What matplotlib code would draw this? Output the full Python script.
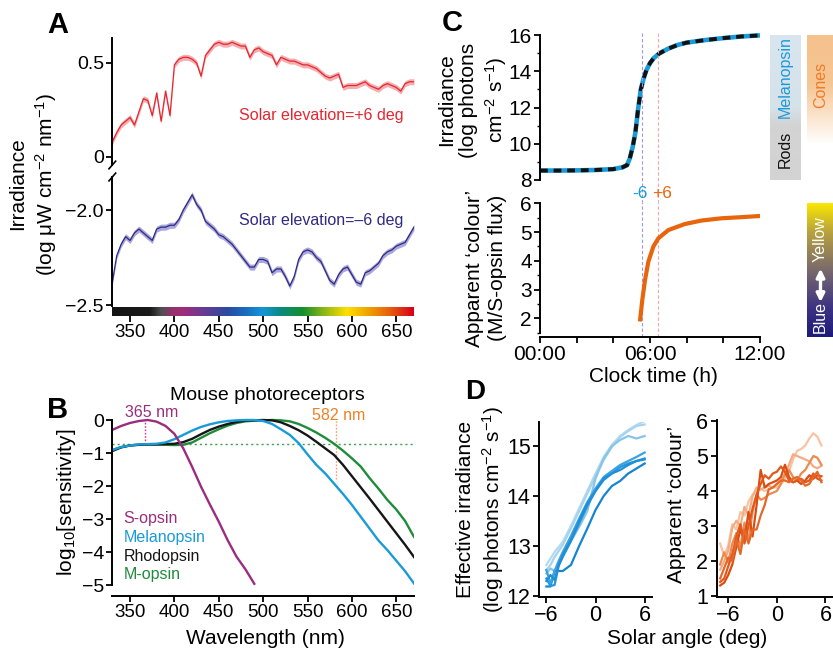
import numpy as np
import matplotlib
matplotlib.use('Agg')
import matplotlib.pyplot as plt
from matplotlib.colors import LinearSegmentedColormap
from matplotlib.ticker import FixedLocator

plt.rcParams['font.family'] = ['Liberation Sans', 'DejaVu Sans']
plt.rcParams['mathtext.fontset'] = 'custom'
plt.rcParams['mathtext.rm'] = 'Liberation Sans'
plt.rcParams['mathtext.it'] = 'Liberation Sans:italic'
plt.rcParams['axes.linewidth'] = 1.4
for a in ['xtick', 'ytick']:
    plt.rcParams[a + '.major.width'] = 1.3
    plt.rcParams[a + '.major.size'] = 4
    plt.rcParams[a + '.minor.width'] = 1.0
    plt.rcParams[a + '.minor.size'] = 2.5
    plt.rcParams[a + '.major.pad'] = 2

# ---------------- DATA ----------------
# Panel A: spectra (log uW cm-2 nm-1)
wl_a = list(range(330, 671, 5))
irr_plus6 = [0.08, 0.13, 0.17, 0.19, 0.21, 0.17, 0.24, 0.31, 0.30, 0.22,
             0.34, 0.19, 0.35, 0.22, 0.49, 0.52, 0.53, 0.53, 0.52, 0.50,
             0.43, 0.54, 0.57, 0.60, 0.61, 0.60, 0.60, 0.61, 0.60, 0.59,
             0.59, 0.53, 0.57, 0.58, 0.56, 0.55, 0.54, 0.49, 0.53, 0.52,
             0.51, 0.51, 0.50, 0.49, 0.49, 0.48, 0.47, 0.45, 0.43, 0.42,
             0.43, 0.44, 0.37, 0.38, 0.38, 0.38, 0.39, 0.40, 0.38, 0.37,
             0.36, 0.38, 0.39, 0.38, 0.37, 0.35, 0.39, 0.40, 0.40]
irr_minus6 = [-2.38, -2.24, -2.18, -2.14, -2.16, -2.12, -2.10, -2.12, -2.14, -2.16,
              -2.10, -2.09, -2.09, -2.08, -2.08, -2.05, -2.00, -1.96, -1.92, -1.97,
              -2.00, -2.06, -2.08, -2.10, -2.13, -2.14, -2.16, -2.18, -2.21, -2.24,
              -2.27, -2.30, -2.30, -2.26, -2.26, -2.27, -2.33, -2.31, -2.31, -2.35,
              -2.40, -2.35, -2.26, -2.22, -2.21, -2.22, -2.25, -2.27, -2.32, -2.37,
              -2.39, -2.34, -2.31, -2.30, -2.34, -2.38, -2.39, -2.33, -2.32, -2.30,
              -2.28, -2.24, -2.22, -2.21, -2.19, -2.18, -2.17, -2.13, -2.09]
sem_a = 0.016
spectrum_wl = [330, 372, 385, 398, 410, 430, 460, 480, 500, 520, 545, 575, 595, 620, 645, 670]
spectrum_col = ['#141414', '#1a1a1a', '#505050', '#98306e', '#a02c78', '#6c3a92', '#2c4aa2',
                '#1a6cc0', '#1496d8', '#0a8a80', '#14902e', '#a8c010', '#ffe000', '#f0a000',
                '#e65a10', '#d8001a']

# Panel B: log10 sensitivity
wl_b = list(range(330, 671, 10))
s_opsin = [-0.30, -0.18, -0.09, -0.03, 0.00, -0.05, -0.18, -0.42, -0.86, -1.42,
           -2.02, -2.56, -3.08, -3.64, -4.14, -4.52, -4.96]
melanopsin = [-0.91, -0.82, -0.77, -0.74, -0.73, -0.72, -0.68, -0.58, -0.45, -0.32,
              -0.21, -0.13, -0.07, -0.03, -0.01, 0.00, 0.00, -0.03, -0.12, -0.28,
              -0.45, -0.70, -1.04, -1.36, -1.62, -1.93, -2.24, -2.57, -2.93, -3.29,
              -3.65, -3.94, -4.26, -4.58, -4.95]
rhodopsin = [-0.94, -0.83, -0.77, -0.75, -0.74, -0.74, -0.73, -0.72, -0.67, -0.57,
             -0.43, -0.30, -0.20, -0.12, -0.06, -0.02, -0.01, 0.00, -0.01, -0.07,
             -0.18, -0.31, -0.47, -0.66, -0.86, -1.06, -1.36, -1.70, -2.04, -2.38,
             -2.73, -3.08, -3.43, -3.78, -4.15]
m_opsin = [-0.91, -0.82, -0.77, -0.75, -0.74, -0.74, -0.75, -0.76, -0.75, -0.68,
           -0.54, -0.40, -0.28, -0.17, -0.09, -0.04, -0.02, -0.01, 0.00, -0.01,
           -0.04, -0.12, -0.24, -0.38, -0.54, -0.72, -0.93, -1.16, -1.41, -1.76,
           -2.08, -2.42, -2.71, -3.06, -3.54]
legend_b = ['S-opsin', 'Melanopsin', 'Rhodopsin', 'M-opsin']

# Panel C
time_c = [0, 1, 2, 3, 4, 4.5, 4.75, 4.9, 5.05, 5.2, 5.35, 5.5, 5.65, 5.8, 6.0, 6.2,
          6.5, 7.0, 7.5, 8, 9, 10, 11, 12]
irr_c = [8.52, 8.52, 8.53, 8.55, 8.6, 8.7, 8.82, 9.2, 9.8, 10.6, 11.9, 13.0, 13.6,
         14.05, 14.45, 14.72, 14.98, 15.25, 15.45, 15.58, 15.72, 15.83, 15.92, 15.98]
time_col = [5.45, 5.58, 5.73, 5.91, 6.18, 6.45, 7.0, 7.9, 8.8, 9.9, 11.0, 12.0]
colour_c = [1.89, 2.64, 3.34, 3.97, 4.49, 4.78, 5.07, 5.28, 5.40, 5.48, 5.52, 5.56]
t_minus6 = 5.58
t_plus6 = 6.45

# Panel D
angle_d1 = [-6, -5.5, -5, -4.5, -4, -3, -2, -1, 0, 1, 2, 3, 4, 5, 6]
eff_irr = [
    [12.62, 12.75, 12.88, 12.98, 13.08, 13.40, 13.75, 14.10, 14.45, 14.78, 15.02, 15.20, 15.32, 15.42, 15.50],
    [12.52, 12.62, 12.78, 12.90, 13.02, 13.35, 13.70, 14.05, 14.40, 14.72, 14.98, 15.18, 15.30, 15.40, 15.43],
    [12.45, 12.55, 12.50, 12.62, 12.80, 13.10, 13.38, 13.70, 14.35, 14.75, 15.00, 15.12, 15.20, 15.15, 15.20],
    [12.19, 12.19, 12.50, 12.50, 12.50, 12.62, 13.00, 13.35, 13.72, 14.00, 14.20, 14.30, 14.45, 14.55, 14.65],
    [12.35, 12.20, 12.22, 12.60, 12.78, 13.10, 13.45, 13.80, 14.10, 14.32, 14.45, 14.58, 14.65, 14.70, 14.73],
    [12.52, 12.25, 12.50, 12.70, 12.88, 13.20, 13.55, 13.88, 14.15, 14.38, 14.50, 14.62, 14.70, 14.78, 14.87],
    [12.30, 12.42, 12.32, 12.62, 12.82, 13.12, 13.50, 13.85, 14.10, 14.35, 14.45, 14.52, 14.62, 14.70, 14.75],
]
eff_cols = ['#b3daf1', '#a6d3ee', '#86c4ea', '#1585d2', '#2496db', '#3aa3e0', '#1e8fd8']

angle_d2 = [-7, -6.5, -6, -5.5, -5, -4.5, -4, -3.5, -3, -2.5, -2, -1.5, -1, -0.5,
            0, 0.5, 1, 1.5, 2, 2.5, 3, 3.5, 4, 4.5, 5, 5.5]
app_col = [
    [2.5, 2.15, 2.45, 3.05, 2.9, 3.4, 3.3, 3.7, 3.9, 4.0, 4.05, 4.0, 4.05, 4.1, 4.1, 4.2, 4.35, 4.55, 4.9, 5.15, 5.2, 5.3, 5.5, 5.65, 5.55, 5.3],
    [1.75, 2.0, 2.3, 2.95, 3.15, 3.0, 3.55, 3.3, 3.85, 4.1, 4.05, 4.1, 4.15, 4.1, 4.2, 4.3, 4.45, 4.75, 5.05, 5.0, 4.95, 4.9, 4.85, 4.7, 4.65, 4.72],
    [1.9, 2.25, 1.95, 2.5, 2.8, 2.4, 3.1, 2.6, 3.4, 3.9, 3.75, 3.8, 3.9, 3.95, 4.0, 4.2, 4.5, 4.6, 4.4, 4.3, 4.5, 4.6, 4.8, 5.0, 4.95, 4.75],
    [1.3, 1.38, 1.6, 1.9, 2.4, 2.9, 2.6, 3.4, 2.7, 3.6, 4.6, 4.1, 4.2, 4.25, 4.3, 4.4, 4.75, 4.4, 4.25, 4.3, 4.2, 4.3, 4.45, 4.35, 4.45, 4.42],
    [1.4, 1.5, 1.85, 2.2, 2.7, 3.05, 2.5, 3.0, 3.5, 3.9, 4.2, 4.45, 4.35, 4.5, 4.55, 4.7, 4.55, 4.3, 4.25, 4.3, 4.35, 4.25, 4.3, 4.5, 4.35, 4.3],
    [1.5, 1.8, 2.1, 2.0, 2.6, 2.2, 2.9, 2.5, 2.9, 2.9, 3.3, 3.6, 4.05, 4.1, 4.2, 4.3, 4.3, 4.25, 4.35, 4.4, 4.3, 4.15, 4.2, 4.4, 4.55, 4.25],
]
app_cols = ['#f7c4a2', '#f3ac84', '#ec8a50', '#dc4c10', '#e2581a', '#e4682a']

# ---------------- FIGURE ----------------
W, H = 833, 654
fig = plt.figure(figsize=(W / 100, H / 100), dpi=100)


def add_ax(x0, y0, x1, y1):
    return fig.add_axes([x0 / W, 1 - y1 / H, (x1 - x0) / W, (y1 - y0) / H])


def ftext(x, y, s, **kw):
    fig.text(x / W, 1 - y / H, s, **kw)


def clean(ax, keep=('left', 'bottom')):
    for s in ['top', 'right', 'left', 'bottom']:
        ax.spines[s].set_visible(s in keep)


TICK = 14
LAB = 15

# ---- Panel A ----
c_red, c_redband = '#e5262f', '#f4aeb1'
c_nav, c_navband = '#2f2a80', '#a9a7dc'
axA1 = add_ax(112.3, 38, 414, 165)
p6 = np.array(irr_plus6)
axA1.fill_between(wl_a, p6 - sem_a, p6 + sem_a, color=c_redband, lw=0)
axA1.plot(wl_a, p6, color=c_red, lw=0.9)
axA1.set_xlim(330, 670)
axA1.set_ylim(-0.043, 0.633)
clean(axA1, ('left',))
axA1.set_xticks([])
axA1.set_yticks([0, 0.5])
axA1.set_yticklabels(['0', '0.5'])
axA1.tick_params(labelsize=TICK)
axA1.plot([-0.011, 0.011], [-0.03, 0.03], transform=axA1.transAxes, color='k', lw=1.2, clip_on=False)
axA1.text(0.965, 0.39, 'Solar elevation=+6 deg', transform=axA1.transAxes, color=c_red,
          fontsize=11.5, ha='right', va='center')

axA2 = add_ax(112.3, 177, 414, 306)
m6 = np.array(irr_minus6)
axA2.fill_between(wl_a, m6 - sem_a, m6 + sem_a, color=c_navband, lw=0)
axA2.plot(wl_a, m6, color=c_nav, lw=0.9)
axA2.set_xlim(330, 670)
axA2.set_ylim(-2.505, -1.826)
clean(axA2, ('left',))
axA2.set_xticks([])
axA2.set_yticks([-2.5, -2.0])
axA2.set_yticklabels(['\u22122.5', '\u22122.0'])
axA2.tick_params(labelsize=TICK)
axA2.plot([-0.011, 0.011], [0.97, 1.03], transform=axA2.transAxes, color='k', lw=1.2, clip_on=False)
axA2.text(0.965, 0.66, 'Solar elevation=\u20136 deg', transform=axA2.transAxes, color=c_nav,
          fontsize=11.5, ha='right', va='center')

axCB = add_ax(112.3, 307, 414, 316)
pos = [(w - spectrum_wl[0]) / (spectrum_wl[-1] - spectrum_wl[0]) for w in spectrum_wl]
cmap_sp = LinearSegmentedColormap.from_list('spec', list(zip(pos, spectrum_col)))
axCB.imshow(np.linspace(0, 1, 400)[None, :], aspect='auto', cmap=cmap_sp,
            extent=[330, 670, 0, 1])
axCB.set_xlim(330, 670)
clean(axCB, ())
axCB.set_yticks([])
axCB.set_xticks(range(350, 651, 50))
axCB.tick_params(axis='x', labelsize=13.5, length=4, width=1.3)

ftext(34, 184, 'Irradiance\n(log \u03bcW cm$^{\u22122}$ nm$^{\u22121}$)', rotation=90,
      ha='center', va='center', fontsize=LAB, linespacing=1.3)
ftext(58, 25, 'A', fontsize=21, fontweight='bold', ha='center', va='center')

# ---- Panel B ----
c_s, c_mel, c_rho, c_m = '#9b2d7f', '#1a9ad9', '#161616', '#1f8c3b'
axB = add_ax(112.3, 416.7, 414, 596)
axB.axhline(-0.74, color='#3aa050', lw=1.0, ls=(0, (1.5, 2.2)))
axB.vlines(367, -0.74, 0, color='#d6338f', lw=1.0, ls=(0, (1.2, 1.2)))
axB.vlines(582, -1.78, -0.03, color='#f2a070', lw=1.0, ls=(0, (1.2, 1.2)))
axB.plot(wl_b, m_opsin, color=c_m, lw=1.7)
axB.plot(wl_b, rhodopsin, color=c_rho, lw=1.7)
axB.plot(wl_b, melanopsin, color=c_mel, lw=1.7)
axB.plot(wl_b[:len(s_opsin)], s_opsin, color=c_s, lw=1.7)
axB.set_xlim(330, 670)
axB.set_ylim(-5.33, 0.1)
clean(axB)
axB.spines['left'].set_bounds(-5, 0)
axB.set_xticks(range(350, 651, 50))
axB.set_yticks([0, -1, -2, -3, -4, -5])
axB.set_yticklabels(['0', '\u22121', '\u22122', '\u22123', '\u22124', '\u22125'])
axB.tick_params(axis='x', labelsize=13.5)
axB.tick_params(axis='y', labelsize=TICK)
axB.text(374, 0.24, '365 nm', color=c_s, fontsize=11.5, ha='center', va='center')
axB.text(585.5, 0.15, '582 nm', color='#f07f24', fontsize=11.5, ha='center', va='center')
for lab, col, yy in zip(legend_b, [c_s, c_mel, c_rho, c_m], [-2.97, -3.55, -4.12, -4.67]):
    axB.text(342.5, yy, lab, color=col, fontsize=11.5, ha='left', va='center')
ftext(267, 395, 'Mouse photoreceptors', fontsize=14, ha='center', va='center')
ftext(66, 502, 'log$_{10}$[sensitivity]', rotation=90, fontsize=LAB, ha='center', va='center')
ftext(265, 638, 'Wavelength (nm)', fontsize=LAB, ha='center', va='center')
ftext(58, 410, 'B', fontsize=21, fontweight='bold', ha='center', va='center')

# ---- Panel C ----
c_orange = '#e8650c'
axC1 = add_ax(540, 33.2, 760, 181.8)
axC1.plot(time_c, irr_c, color=c_mel, lw=3.3, solid_capstyle='butt')
axC1.plot(time_c, irr_c, color='#111111', lw=2.8, ls=(0, (2.0, 1.5)))
axC1.axvline(t_minus6, ymin=-0.14, ymax=1, clip_on=False, color='#9a9ae6', lw=0.8, ls=(0, (3, 2)))
axC1.axvline(t_plus6, ymin=-0.14, ymax=1, clip_on=False, color='#f2a6a6', lw=0.8, ls=(0, (3, 2)))
axC1.set_xlim(0, 12)
axC1.set_ylim(7.9, 16.1)
clean(axC1, ('left',))
axC1.spines['left'].set_bounds(8, 16)
axC1.set_xticks([])
axC1.set_yticks([8, 10, 12, 14, 16])
axC1.yaxis.set_minor_locator(FixedLocator([9, 11, 13, 15]))
axC1.tick_params(labelsize=15)

axC2 = add_ax(540, 201.9, 760, 336.7)
axC2.axvline(t_minus6, color='#9a9ae6', lw=0.8, ls=(0, (3, 2)))
axC2.axvline(t_plus6, color='#f2a6a6', lw=0.8, ls=(0, (3, 2)))
axC2.plot(time_col, colour_c, color=c_orange, lw=3.0, solid_capstyle='butt')
axC2.set_xlim(0, 12)
axC2.set_ylim(1.36, 6.05)
clean(axC2)
axC2.spines['left'].set_bounds(1.5, 6)
axC2.set_xticks([0, 6, 12])
axC2.set_xticklabels(['00:00', '06:00', '12:00'])
axC2.xaxis.set_minor_locator(FixedLocator([2, 4, 8, 10]))
axC2.tick_params(axis='x', which='minor', length=4, width=1.3)
axC2.set_yticks([2, 3, 4, 5, 6])
axC2.yaxis.set_minor_locator(FixedLocator([1.5, 2.5, 3.5, 4.5, 5.5]))
axC2.tick_params(labelsize=15)
ftext(640, 194, '-6', color=c_mel, fontsize=12.5, ha='center', va='center')
ftext(662, 194, '+6', color=c_orange, fontsize=12.5, ha='center', va='center')

ftext(473, 100, 'Irradiance\n(log photons\ncm$^{\u22122}$ s$^{\u22121}$)', rotation=90,
      ha='center', va='center', fontsize=LAB, linespacing=1.25)
ftext(486, 268, 'Apparent \u2018colour\u2019\n(M/S-opsin flux)', rotation=90,
      ha='center', va='center', fontsize=LAB, linespacing=1.3)
ftext(653, 376, 'Clock time (h)', fontsize=LAB, ha='center', va='center')
ftext(452, 23, 'C', fontsize=21, fontweight='bold', ha='center', va='center')

# side bars
grad = np.linspace(0, 1, 200)[:, None]
axR = add_ax(770, 35, 801, 180)
cm_r = LinearSegmentedColormap.from_list('r', [(0, '#d9e6ef'), (0.5, '#d6e2ea'), (0.62, '#d3d3d3'), (1, '#d3d3d3')])
axR.imshow(grad, aspect='auto', cmap=cm_r, extent=[0, 1, 0, 1])
clean(axR, ())
axR.set_xticks([]); axR.set_yticks([])
axR.text(0.5, 0.71, 'Melanopsin', rotation=90, color=c_mel, fontsize=11.5, ha='center', va='center', transform=axR.transAxes)
axR.text(0.5, 0.21, 'Rods', rotation=90, color='#111111', fontsize=11.5, ha='center', va='center', transform=axR.transAxes)

axK = add_ax(807, 35, 834, 145)
cm_k = LinearSegmentedColormap.from_list('k', [(0, '#f5c18d'), (0.45, '#f6c694'), (1, '#ffffff')])
axK.imshow(grad, aspect='auto', cmap=cm_k, extent=[0, 1, 0, 1])
clean(axK, ())
axK.set_xticks([]); axK.set_yticks([])
axK.text(0.5, 0.55, 'Cones', rotation=90, color='#f07a28', fontsize=11.5, ha='center', va='center', transform=axK.transAxes)

axY = add_ax(807, 203, 834, 337)
cm_y = LinearSegmentedColormap.from_list('y', [(0, '#fde900'), (0.22, '#b8a23e'), (0.5, '#7a6a6c'), (0.78, '#3e3482'), (1, '#1d1a7a')])
axY.imshow(grad, aspect='auto', cmap=cm_y, extent=[0, 1, 0, 1])
clean(axY, ())
axY.set_xticks([]); axY.set_yticks([])
axY.text(0.5, 0.73, 'Yellow', rotation=90, color='white', fontsize=11.5, ha='center', va='center', transform=axY.transAxes)
axY.text(0.5, 0.15, 'Blue', rotation=90, color='white', fontsize=11.5, ha='center', va='center', transform=axY.transAxes)
axY.annotate('', xy=(0.5, 0.51), xytext=(0.5, 0.26), xycoords='axes fraction',
             arrowprops=dict(arrowstyle='<|-|>', color='white', lw=2.4, mutation_scale=12, shrinkA=0, shrinkB=0))

# ---- Panel D ----
axD1 = add_ax(539, 421.5, 652, 597)
for vals, col in zip(eff_irr, eff_cols):
    axD1.plot(angle_d1, vals, color=col, lw=1.6)
axD1.set_xlim(-6.9, 6.9)
axD1.set_ylim(11.98, 15.49)
clean(axD1)
axD1.set_xticks([-6, 0, 6])
axD1.set_xticklabels(['\u22126', '0', '6'])
axD1.set_yticks([12, 13, 14, 15])
axD1.tick_params(labelsize=15.5)

axD2 = add_ax(716.5, 419.6, 834, 596.7)
for vals, col in zip(app_col, app_cols):
    axD2.plot(angle_d2, vals, color=col, lw=1.6)
axD2.set_xlim(-7.45, 7.05)
axD2.set_ylim(0.98, 6.04)
clean(axD2)
axD2.set_xticks([-6, 0, 6])
axD2.set_xticklabels(['\u22126', '0', '6'])
axD2.set_yticks([1, 2, 3, 4, 5, 6])
axD2.tick_params(labelsize=15.5)

ftext(481, 509, 'Effective irradiance\n(log photons cm$^{\u22122}$ s$^{\u22121}$)', rotation=90,
      ha='center', va='center', fontsize=LAB, linespacing=1.3)
ftext(677, 504, 'Apparent \u2018colour\u2019', rotation=90, ha='center', va='center', fontsize=LAB)
ftext(687, 638, 'Solar angle (deg)', fontsize=LAB, ha='center', va='center')
ftext(475, 392, 'D', fontsize=20, fontweight='bold', ha='center', va='center')

fig.savefig('out.png', dpi=100)
